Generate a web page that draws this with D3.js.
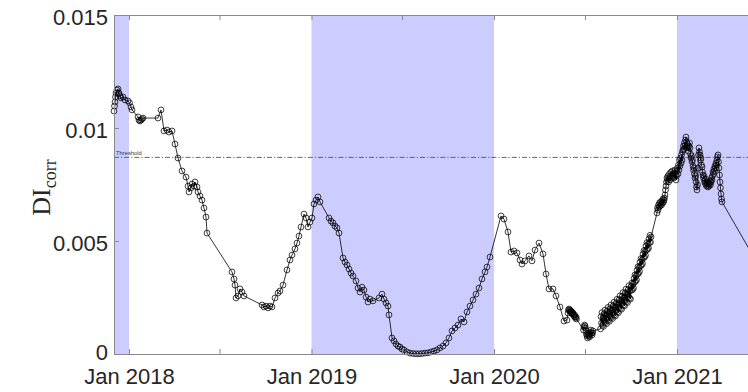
<!DOCTYPE html>
<html>
<head>
<meta charset="utf-8">
<script src="https://cdn.jsdelivr.net/npm/d3@7"></script>
<style>
  html, body { margin: 0; padding: 0; background: #fff; }
  svg { display: block; }
</style>
</head>
<body>
<svg id="chart" width="748" height="392"></svg>
<script>
// Observation dates of the correlation damage index
const obsDates = [
  "2017-12-02","2017-12-03","2017-12-04","2017-12-05","2017-12-06","2017-12-08","2017-12-10","2017-12-11",
  "2017-12-12","2017-12-14","2017-12-16","2017-12-20","2017-12-24","2017-12-30","2018-01-02","2018-01-05",
  "2018-01-07","2018-01-19","2018-01-21","2018-01-23","2018-01-25","2018-01-27","2018-01-29","2018-02-28",
  "2018-03-06","2018-03-12","2018-03-18","2018-03-22","2018-03-28","2018-04-03","2018-04-09","2018-04-17",
  "2018-04-25","2018-04-29","2018-05-01","2018-05-05","2018-05-07","2018-05-11","2018-05-13","2018-05-17",
  "2018-05-19","2018-05-23","2018-05-27","2018-05-31","2018-06-04","2018-06-06",
  "2018-07-26","2018-07-30","2018-08-01","2018-08-03","2018-08-07","2018-08-11","2018-08-15","2018-08-19",
  "2018-09-24","2018-09-28","2018-10-02","2018-10-06","2018-10-10","2018-10-14","2018-10-20","2018-10-26",
  "2018-10-30","2018-11-05","2018-11-13","2018-11-19","2018-11-23","2018-11-29","2018-12-03","2018-12-07",
  "2018-12-11","2018-12-17","2018-12-21","2018-12-25","2018-12-29",
  "2019-01-02","2019-01-06","2019-01-10","2019-01-14","2019-01-18","2019-02-05","2019-02-09","2019-02-13",
  "2019-02-17","2019-02-21","2019-02-25","2019-03-05","2019-03-09","2019-03-13","2019-03-17","2019-03-21",
  "2019-03-25","2019-03-31","2019-04-04","2019-04-08","2019-04-12","2019-04-16","2019-04-20","2019-04-24",
  "2019-04-28","2019-05-04","2019-05-16","2019-05-22","2019-05-26","2019-05-30","2019-06-03","2019-06-05",
  "2019-06-11","2019-06-15","2019-06-19","2019-06-23","2019-06-27","2019-07-01","2019-07-05","2019-07-11",
  "2019-07-17","2019-07-23","2019-07-29","2019-08-04","2019-08-10","2019-08-16","2019-08-22","2019-08-28",
  "2019-09-03","2019-09-09","2019-09-15","2019-09-21","2019-09-27","2019-10-03","2019-10-09","2019-10-15",
  "2019-10-21","2019-10-27","2019-11-02","2019-11-08","2019-11-14","2019-11-20","2019-11-26","2019-12-02",
  "2019-12-08","2019-12-14","2019-12-18","2019-12-24",
  "2020-01-15","2020-01-21","2020-01-29","2020-02-04","2020-02-10","2020-02-16","2020-02-22","2020-02-26",
  "2020-03-03","2020-03-11","2020-03-17","2020-03-23","2020-03-31","2020-04-08","2020-04-14","2020-04-20",
  "2020-04-28","2020-05-04","2020-05-12","2020-05-20","2020-05-26",
  "2020-05-28","2020-05-29","2020-05-30","2020-05-31","2020-06-01","2020-06-02","2020-06-03","2020-06-04",
  "2020-06-05","2020-06-06","2020-06-07","2020-06-08","2020-06-09","2020-06-10","2020-06-11","2020-06-12",
  "2020-06-13","2020-06-14",
  "2020-06-28","2020-06-29","2020-06-30","2020-07-01","2020-07-02","2020-07-03","2020-07-04","2020-07-05",
  "2020-07-06","2020-07-07","2020-07-08","2020-07-09","2020-07-10","2020-07-11","2020-07-12","2020-07-13",
  "2020-07-14","2020-07-15","2020-07-16","2020-07-17",
  "2020-08-01","2020-08-02","2020-08-03","2020-08-04","2020-08-05","2020-08-06","2020-08-07","2020-08-08",
  "2020-08-09","2020-08-10","2020-08-11","2020-08-12","2020-08-13","2020-08-14","2020-08-15","2020-08-16",
  "2020-08-17","2020-08-18","2020-08-19","2020-08-20","2020-08-21","2020-08-22","2020-08-23","2020-08-24",
  "2020-08-25","2020-08-26","2020-08-27","2020-08-28","2020-08-29","2020-08-30","2020-08-31",
  "2020-09-01","2020-09-02","2020-09-03","2020-09-04","2020-09-05","2020-09-06","2020-09-07","2020-09-08",
  "2020-09-09","2020-09-10","2020-09-11","2020-09-12","2020-09-13","2020-09-14","2020-09-15","2020-09-16",
  "2020-09-17","2020-09-18","2020-09-19","2020-09-20","2020-09-21","2020-09-22","2020-09-23","2020-09-24",
  "2020-09-25","2020-09-26","2020-09-27","2020-09-28","2020-09-29","2020-09-30",
  "2020-10-01","2020-10-02","2020-10-03","2020-10-04","2020-10-05","2020-10-06","2020-10-07","2020-10-08",
  "2020-10-09","2020-10-10","2020-10-11","2020-10-12","2020-10-13","2020-10-14","2020-10-15","2020-10-16",
  "2020-10-17","2020-10-18","2020-10-19","2020-10-20","2020-10-21","2020-10-22","2020-10-23","2020-10-24",
  "2020-10-25","2020-10-26","2020-10-27","2020-10-28","2020-10-29","2020-10-30","2020-10-31",
  "2020-11-01","2020-11-02","2020-11-03","2020-11-04","2020-11-05","2020-11-06","2020-11-07","2020-11-08",
  "2020-11-09","2020-11-10",
  "2020-11-22","2020-11-23","2020-11-24","2020-11-25","2020-11-26","2020-11-27","2020-11-28","2020-11-29",
  "2020-11-30","2020-12-01","2020-12-02","2020-12-03","2020-12-04","2020-12-05","2020-12-06","2020-12-07",
  "2020-12-08","2020-12-09","2020-12-10","2020-12-11","2020-12-12","2020-12-13","2020-12-14","2020-12-15",
  "2020-12-16","2020-12-17","2020-12-18","2020-12-19","2020-12-20","2020-12-21","2020-12-22","2020-12-23",
  "2020-12-24","2020-12-25","2020-12-26","2020-12-27","2020-12-28","2020-12-29","2020-12-30","2020-12-31",
  "2021-01-01","2021-01-02","2021-01-03","2021-01-04","2021-01-05","2021-01-06","2021-01-07","2021-01-08",
  "2021-01-09","2021-01-10","2021-01-11","2021-01-12","2021-01-13","2021-01-14","2021-01-15","2021-01-16",
  "2021-01-17","2021-01-18","2021-01-19","2021-01-20","2021-01-21","2021-01-22","2021-01-23","2021-01-24",
  "2021-01-25","2021-01-26","2021-01-27","2021-01-28","2021-01-29","2021-01-30","2021-01-31",
  "2021-02-01","2021-02-02","2021-02-03","2021-02-04","2021-02-05","2021-02-06","2021-02-07","2021-02-08",
  "2021-02-09","2021-02-10","2021-02-11","2021-02-12","2021-02-13","2021-02-14","2021-02-15","2021-02-16",
  "2021-02-17","2021-02-18","2021-02-19","2021-02-20","2021-02-21","2021-02-22","2021-02-23","2021-02-24",
  "2021-02-25","2021-02-26","2021-02-27","2021-02-28",
  "2021-03-01","2021-03-02","2021-03-03","2021-03-04","2021-03-05","2021-03-06","2021-03-07","2021-03-08",
  "2021-03-09","2021-03-10","2021-03-11","2021-03-12","2021-03-13","2021-03-14","2021-03-15","2021-03-16",
  "2021-03-17","2021-03-18","2021-03-19","2021-03-20","2021-03-21","2021-03-22","2021-03-23","2021-03-24",
  "2021-03-25","2021-03-26","2021-03-27","2021-03-28","2021-03-29","2021-03-30","2021-03-31","2021-04-01",
  "2021-06-16"
];

// DI_corr value at each observation date
const diCorr = [
  0.01075,0.01097,0.01115,0.01137,0.01155,0.01168,0.01173,0.01151,
  0.01155,0.01142,0.01133,0.01137,0.01124,0.01120,0.01111,0.01093,
  0.01080,0.01049,0.01035,0.01031,0.01035,0.01040,0.01044,0.01044,
  0.01080,0.00987,0.00991,0.00982,0.00987,0.00929,0.00867,0.00810,
  0.00783,0.00743,0.00717,0.00735,0.00752,0.00743,0.00761,0.00739,
  0.00717,0.00699,0.00681,0.00646,0.00606,0.00535,
  0.00363,0.00332,0.00305,0.00248,0.00257,0.00288,0.00274,0.00257,
  0.00217,0.00208,0.00212,0.00204,0.00212,0.00208,0.00248,0.00270,
  0.00279,0.00305,0.00372,0.00416,0.00438,0.00465,0.00491,0.00522,
  0.00562,0.00619,0.00602,0.00562,0.00584,
  0.00602,0.00664,0.00681,0.00695,0.00673,0.00602,0.00588,0.00580,
  0.00566,0.00558,0.00535,0.00425,0.00407,0.00394,0.00376,0.00358,
  0.00345,0.00323,0.00292,0.00274,0.00296,0.00283,0.00252,0.00230,
  0.00243,0.00235,0.00248,0.00265,0.00243,0.00226,0.00212,0.00173,
  0.00071,0.00058,0.00044,0.00035,0.00031,0.00022,0.00018,0.00009,
  0.00004,0.00002,0.00001,0.00001,0.00002,0.00004,0.00005,0.00009,
  0.00013,0.00018,0.00027,0.00035,0.00049,0.00071,0.00102,0.00115,
  0.00128,0.00155,0.00142,0.00186,0.00212,0.00239,0.00265,0.00292,
  0.00332,0.00363,0.00385,0.00429,
  0.00611,0.00597,0.00540,0.00451,0.00456,0.00447,0.00416,0.00398,
  0.00412,0.00434,0.00412,0.00460,0.00491,0.00443,0.00354,0.00288,
  0.00288,0.00257,0.00208,0.00146,0.00150,
  0.00181,0.00195,0.00199,0.00190,0.00195,0.00186,0.00190,0.00181,
  0.00186,0.00177,0.00181,0.00173,0.00168,0.00173,0.00164,0.00159,
  0.00164,0.00155,
  0.00106,0.00119,0.00128,0.00124,0.00115,0.00102,0.00088,0.00080,
  0.00071,0.00084,0.00093,0.00080,0.00075,0.00088,0.00097,0.00106,
  0.00093,0.00084,0.00093,0.00102,
  0.00111,0.00165,0.00137,0.00183,0.00127,0.00160,0.00122,0.00177,
  0.00148,0.00194,0.00139,0.00172,0.00134,0.00189,0.00160,0.00206,
  0.00150,0.00183,0.00145,0.00200,0.00171,0.00217,0.00162,0.00195,
  0.00157,0.00212,0.00183,0.00229,0.00173,0.00206,0.00168,
  0.00224,0.00195,0.00242,0.00187,0.00220,0.00183,0.00239,0.00210,
  0.00257,0.00202,0.00235,0.00198,0.00254,0.00225,0.00272,0.00217,
  0.00250,0.00213,0.00269,0.00240,0.00287,0.00232,0.00265,0.00228,
  0.00284,0.00255,0.00302,0.00247,0.00281,0.00243,
  0.00298,0.00282,0.00314,0.00285,0.00309,0.00292,0.00334,0.00318,
  0.00350,0.00321,0.00345,0.00328,0.00370,0.00354,0.00386,0.00357,
  0.00381,0.00365,0.00406,0.00390,0.00422,0.00393,0.00416,0.00400,
  0.00442,0.00426,0.00458,0.00429,0.00453,0.00436,0.00478,
  0.00461,0.00493,0.00463,0.00486,0.00469,0.00510,0.00493,0.00525,
  0.00495,0.00518,
  0.00624,0.00646,0.00637,0.00659,0.00650,0.00668,0.00655,0.00673,
  0.00664,0.00659,0.00677,0.00668,0.00686,0.00673,0.00681,0.00690,
  0.00704,0.00726,0.00743,0.00761,0.00779,0.00770,0.00788,0.00761,
  0.00779,0.00797,0.00770,0.00788,0.00805,0.00779,0.00792,0.00810,
  0.00783,0.00801,0.00779,0.00797,0.00814,0.00792,0.00770,0.00788,
  0.00810,0.00823,0.00797,0.00836,0.00814,0.00858,0.00832,0.00867,
  0.00845,0.00881,0.00858,0.00894,0.00903,0.00920,0.00907,0.00934,
  0.00920,0.00947,0.00960,0.00938,0.00912,0.00929,0.00916,0.00898,
  0.00920,0.00934,0.00912,0.00885,0.00867,0.00876,0.00850,
  0.00858,0.00832,0.00814,0.00823,0.00797,0.00779,0.00788,0.00761,
  0.00739,0.00726,0.00748,0.00823,0.00881,0.00912,0.00894,0.00881,
  0.00858,0.00867,0.00836,0.00827,0.00805,0.00792,0.00779,0.00788,
  0.00766,0.00757,0.00774,0.00752,
  0.00743,0.00761,0.00748,0.00739,0.00757,0.00743,0.00752,0.00766,
  0.00748,0.00761,0.00779,0.00770,0.00788,0.00805,0.00797,0.00819,
  0.00810,0.00832,0.00823,0.00845,0.00836,0.00858,0.00872,0.00881,
  0.00850,0.00823,0.00792,0.00761,0.00735,0.00708,0.00686,0.00673,
  0.00381
];

// Periods highlighted on the time axis
const shadedStarts = ["2017-12-02", "2019-01-01", "2021-01-01"];
const shadedEnds   = ["2018-01-01", "2020-01-01", "2021-05-23"];

const thresholdValue = 0.0087;
const thresholdLabel = "Threshold";

const xDomain = ["2017-12-02", "2021-05-23"];
const xTickDates = ["2018-01-01","2018-07-01","2019-01-01","2019-07-01","2020-01-01","2020-07-01","2021-01-01"];
const xTickLabels = ["Jan 2018","","Jan 2019","","Jan 2020","","Jan 2021"];

const yDomain = [0, 0.015];
const yTicks = [0, 0.005, 0.01, 0.015];
const yTickLabels = ["0", "0.005", "0.01", "0.015"];

// ---- drawing ----
const parse = d3.timeParse("%Y-%m-%d");
const W = 748, H = 392;
const plot = { left: 114, right: 748, top: 15, bottom: 354 };
const axisColor = "#8a8a8a";
const textColor = "#262626";
const labelFont = "'Liberation Sans', Arial, Helvetica, sans-serif";
const tickFontSize = 22;

const x = d3.scaleTime().domain(xDomain.map(parse)).range([plot.left, plot.right]);
const y = d3.scaleLinear().domain(yDomain).range([plot.bottom, plot.top]);

const svg = d3.select("#chart");
svg.append("rect").attr("width", W).attr("height", H).attr("fill", "#fff");

const defs = svg.append("defs");
defs.append("clipPath").attr("id", "plot-clip")
  .append("rect")
  .attr("x", plot.left).attr("y", plot.top)
  .attr("width", plot.right - plot.left).attr("height", plot.bottom - plot.top);

// shaded periods
svg.append("g").attr("clip-path", "url(#plot-clip)")
  .selectAll("rect")
  .data(d3.range(shadedStarts.length))
  .join("rect")
  .attr("x", i => x(parse(shadedStarts[i])))
  .attr("width", i => x(parse(shadedEnds[i])) - x(parse(shadedStarts[i])))
  .attr("y", y(yDomain[1]))
  .attr("height", y(yDomain[0]) - y(yDomain[1]))
  .attr("fill", "#ccccff");

// threshold line and label
svg.append("line")
  .attr("x1", plot.left).attr("x2", plot.right)
  .attr("y1", y(thresholdValue)).attr("y2", y(thresholdValue))
  .attr("stroke", "#555").attr("stroke-width", 0.9)
  .attr("stroke-dasharray", "5,2,1.2,2");
svg.append("text")
  .attr("x", plot.left + 2).attr("y", y(thresholdValue) - 2.5)
  .attr("font-family", labelFont).attr("font-size", 5.8)
  .attr("fill", "#333").text(thresholdLabel);

// data series
const series = obsDates.map((d, i) => ({ date: parse(d), value: diCorr[i] }));
const line = d3.line().x(d => x(d.date)).y(d => y(d.value));

svg.append("path")
  .datum(series)
  .attr("clip-path", "url(#plot-clip)")
  .attr("fill", "none")
  .attr("stroke", "#000")
  .attr("stroke-width", 0.8)
  .attr("d", line);

const [x0, x1] = x.domain();
svg.append("g")
  .selectAll("circle")
  .data(series.filter(d => d.date >= x0 && d.date <= x1))
  .join("circle")
  .attr("cx", d => x(d.date))
  .attr("cy", d => y(d.value))
  .attr("r", 2.9)
  .attr("fill", "none")
  .attr("stroke", "#000")
  .attr("stroke-width", 0.75);

// axes box (bottom, left, top) with inward ticks
const xAxisBottom = d3.axisBottom(x)
  .tickValues(xTickDates.map(parse))
  .tickSize(-5).tickSizeOuter(0)
  .tickFormat((d, i) => xTickLabels[i]);
const gx = svg.append("g").attr("transform", `translate(0,${plot.bottom})`).call(xAxisBottom);
gx.select(".domain").attr("stroke", axisColor);
gx.selectAll(".tick line").attr("stroke", axisColor);
gx.selectAll(".tick text")
  .attr("y", 30).attr("dy", 0)
  .attr("fill", textColor)
  .attr("font-family", labelFont).attr("font-size", tickFontSize);

const xAxisTop = d3.axisTop(x)
  .tickValues(xTickDates.map(parse))
  .tickSize(-5).tickSizeOuter(0)
  .tickFormat("");
const gxt = svg.append("g").attr("transform", `translate(0,${plot.top})`).call(xAxisTop);
gxt.select(".domain").attr("stroke", axisColor);
gxt.selectAll(".tick line").attr("stroke", axisColor);

const yAxis = d3.axisLeft(y)
  .tickValues(yTicks)
  .tickSize(-5).tickSizeOuter(0)
  .tickFormat((d, i) => yTickLabels[i]);
const gy = svg.append("g").attr("transform", `translate(${plot.left},0)`).call(yAxis);
gy.select(".domain").attr("stroke", axisColor);
gy.selectAll(".tick line").attr("stroke", axisColor);
gy.selectAll(".tick text")
  .attr("x", -6)
  // the lowest label sits a little higher so it clears the date labels below it
  .attr("dy", d => d === yDomain[0] ? 5 : 9)
  .attr("fill", textColor)
  .attr("font-family", labelFont).attr("font-size", tickFontSize);

// y-axis title: DI with subscript "corr"
const yTitle = svg.append("text")
  .attr("transform", `translate(50,${(plot.top + plot.bottom) / 2 + 3}) rotate(-90)`)
  .attr("text-anchor", "middle")
  .attr("font-family", "'Liberation Serif', 'Times New Roman', serif")
  .attr("fill", textColor)
  .attr("font-size", 26);
yTitle.append("tspan").text("DI");
yTitle.append("tspan").attr("font-size", 18).attr("dy", 6).text("corr");
</script>
</body>
</html>
